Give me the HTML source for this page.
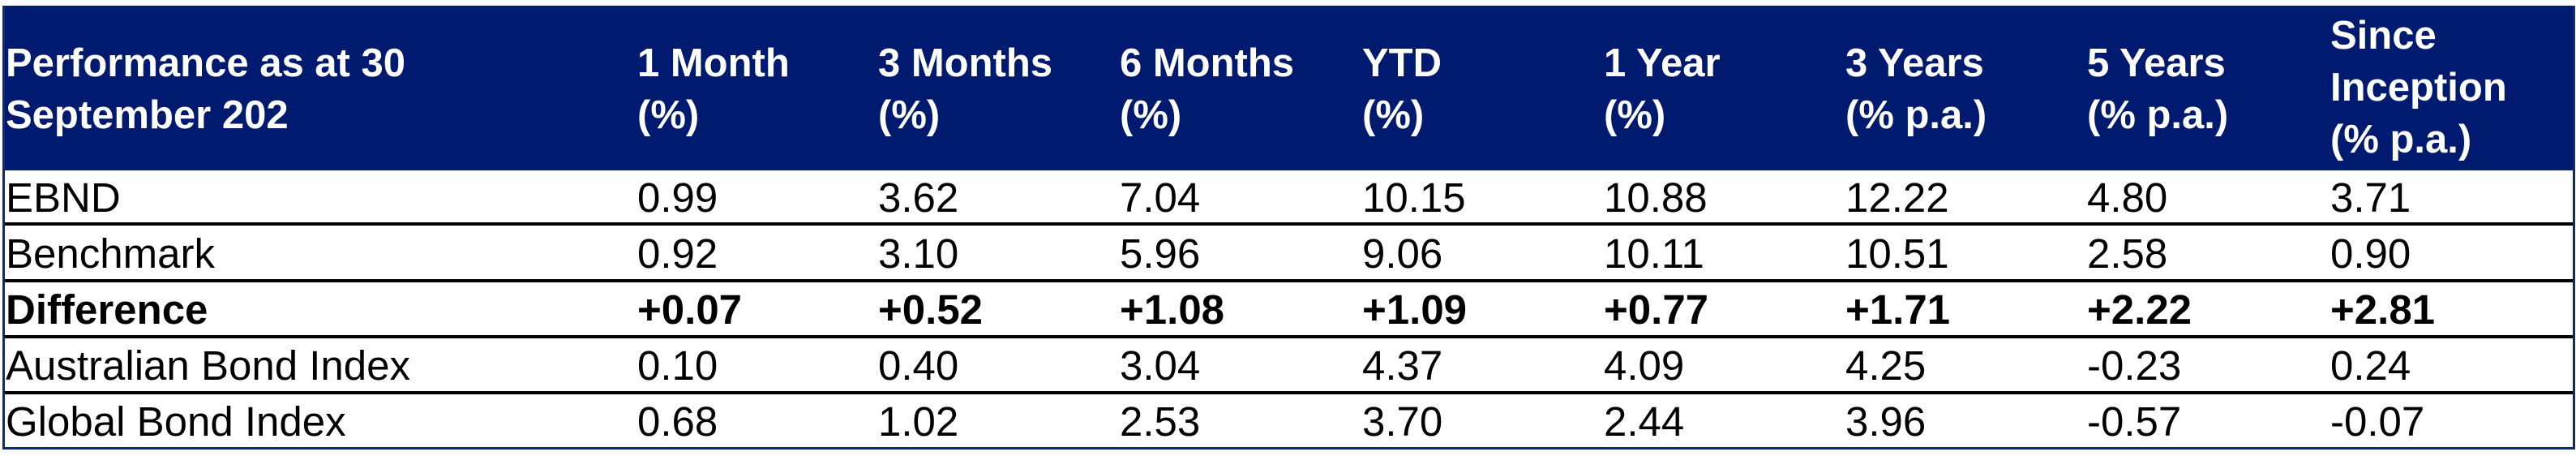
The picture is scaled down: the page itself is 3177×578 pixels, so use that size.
<!DOCTYPE html>
<html><head><meta charset="utf-8"><style>
html,body{margin:0;padding:0;background:#fff;width:3177px;height:578px;overflow:hidden}
.t{position:absolute;left:3px;top:7px;width:3167px;height:544px;border:3px solid #0d2a7a;border-top:none;box-sizing:content-box}
.hd{position:absolute;left:0;top:0;width:3167px;height:203px;background:#001a70}
.ln{position:absolute;left:0;width:3167px;height:4px;background:#000}
.x{position:absolute;font-family:"Liberation Sans",sans-serif;white-space:nowrap}
.h{color:#fff;font-weight:bold;font-size:49px;line-height:64px}
.c{color:#000;font-size:51px;line-height:60px}
.b{font-weight:bold}
</style></head><body>
<div class="t">
<div class="hd"></div>
<div class="ln" style="top:267px"></div>
<div class="ln" style="top:337px"></div>
<div class="ln" style="top:406px"></div>
<div class="ln" style="top:475px"></div>
</div>
<div class="x h" style="left:7px;top:46px">Performance as at 30<br>September 202</div>
<div class="x h" style="left:786px;top:46px">1 Month<br>(%)</div>
<div class="x h" style="left:1083px;top:46px">3 Months<br>(%)</div>
<div class="x h" style="left:1381px;top:46px">6 Months<br>(%)</div>
<div class="x h" style="left:1680px;top:46px">YTD<br>(%)</div>
<div class="x h" style="left:1978px;top:46px">1 Year<br>(%)</div>
<div class="x h" style="left:2276px;top:46px">3 Years<br>(% p.a.)</div>
<div class="x h" style="left:2574px;top:46px">5 Years<br>(% p.a.)</div>
<div class="x h" style="left:2874px;top:12px">Since<br>Inception<br>(% p.a.)</div>

<div class="x c" style="left:7px;top:214px">EBND</div>
<div class="x c" style="left:7px;top:283px">Benchmark</div>
<div class="x c b" style="left:7px;top:352px">Difference</div>
<div class="x c" style="left:7px;top:421px">Australian Bond Index</div>
<div class="x c" style="left:7px;top:490px">Global Bond Index</div>

<div class="x c" style="left:786px;top:214px">0.99</div>
<div class="x c" style="left:1083px;top:214px">3.62</div>
<div class="x c" style="left:1381px;top:214px">7.04</div>
<div class="x c" style="left:1680px;top:214px">10.15</div>
<div class="x c" style="left:1978px;top:214px">10.88</div>
<div class="x c" style="left:2276px;top:214px">12.22</div>
<div class="x c" style="left:2574px;top:214px">4.80</div>
<div class="x c" style="left:2874px;top:214px">3.71</div>

<div class="x c" style="left:786px;top:283px">0.92</div>
<div class="x c" style="left:1083px;top:283px">3.10</div>
<div class="x c" style="left:1381px;top:283px">5.96</div>
<div class="x c" style="left:1680px;top:283px">9.06</div>
<div class="x c" style="left:1978px;top:283px">10.11</div>
<div class="x c" style="left:2276px;top:283px">10.51</div>
<div class="x c" style="left:2574px;top:283px">2.58</div>
<div class="x c" style="left:2874px;top:283px">0.90</div>

<div class="x c b" style="left:786px;top:352px">+0.07</div>
<div class="x c b" style="left:1083px;top:352px">+0.52</div>
<div class="x c b" style="left:1381px;top:352px">+1.08</div>
<div class="x c b" style="left:1680px;top:352px">+1.09</div>
<div class="x c b" style="left:1978px;top:352px">+0.77</div>
<div class="x c b" style="left:2276px;top:352px">+1.71</div>
<div class="x c b" style="left:2574px;top:352px">+2.22</div>
<div class="x c b" style="left:2874px;top:352px">+2.81</div>

<div class="x c" style="left:786px;top:421px">0.10</div>
<div class="x c" style="left:1083px;top:421px">0.40</div>
<div class="x c" style="left:1381px;top:421px">3.04</div>
<div class="x c" style="left:1680px;top:421px">4.37</div>
<div class="x c" style="left:1978px;top:421px">4.09</div>
<div class="x c" style="left:2276px;top:421px">4.25</div>
<div class="x c" style="left:2574px;top:421px">-0.23</div>
<div class="x c" style="left:2874px;top:421px">0.24</div>

<div class="x c" style="left:786px;top:490px">0.68</div>
<div class="x c" style="left:1083px;top:490px">1.02</div>
<div class="x c" style="left:1381px;top:490px">2.53</div>
<div class="x c" style="left:1680px;top:490px">3.70</div>
<div class="x c" style="left:1978px;top:490px">2.44</div>
<div class="x c" style="left:2276px;top:490px">3.96</div>
<div class="x c" style="left:2574px;top:490px">-0.57</div>
<div class="x c" style="left:2874px;top:490px">-0.07</div>
</body></html>
